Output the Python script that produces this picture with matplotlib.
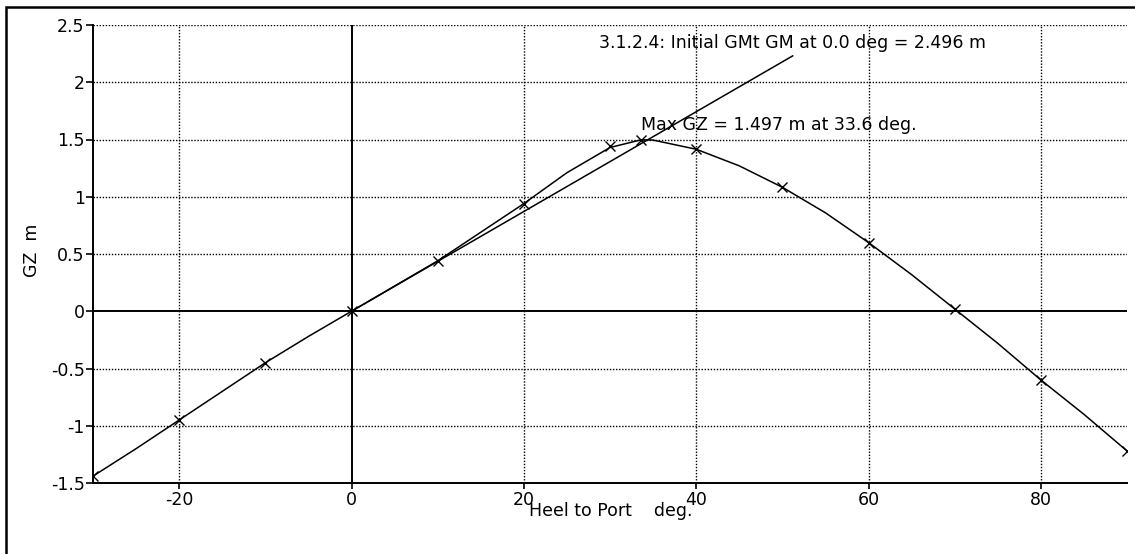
import matplotlib
matplotlib.use("Agg")
import matplotlib.pyplot as plt
from matplotlib.patches import Rectangle

# ---- data ----
heel_deg = [-30, -25, -20, -15, -10, -5, 0, 5, 10, 15, 20, 25, 30, 33.6,
            35, 40, 45, 50, 55, 60, 65, 70, 75, 80, 85, 90]
gz_m = [-1.44, -1.20, -0.95, -0.70, -0.45, -0.22, 0.0, 0.22, 0.44, 0.69,
        0.94, 1.21, 1.43, 1.497, 1.495, 1.415, 1.27, 1.083, 0.86, 0.60,
        0.32, 0.02, -0.28, -0.60, -0.90, -1.22]
marker_deg = [-30, -20, -10, 0, 10, 20, 30, 33.6, 40, 50, 60, 70, 80, 90]
marker_gz = [-1.44, -0.95, -0.45, 0.0, 0.44, 0.94, 1.44, 1.497, 1.415,
             1.083, 0.60, 0.02, -0.60, -1.22]
gm_value = 2.496
gm_line_deg = [0.0, 51.2]
gm_line_gz = [gm_value * d / 57.3 for d in gm_line_deg]
max_gz_deg = 33.6
max_gz_val = 1.497
xticks = [-20, 0, 20, 40, 60, 80]
yticks = [-1.5, -1, -0.5, 0, 0.5, 1, 1.5, 2, 2.5]
ytick_labels = ["-1.5", "-1", "-0.5", "0", "0.5", "1", "1.5", "2", "2.5"]
gm_label = "3.1.2.4: Initial GMt GM at 0.0 deg = 2.496 m"
max_label = "Max GZ = 1.497 m at 33.6 deg."
xlabel = "Heel to Port    deg."
ylabel = "GZ  m"

W, H = 1135, 554
plt.rcParams['font.family'] = ['DejaVu Sans']
FS = 12.5

fig = plt.figure(figsize=(W / 100, H / 100), dpi=100)
fig.patch.set_facecolor("white")

def fx(px):
    return px / W

def fy(py):
    return 1 - py / H

# outer border
fig.patches.append(Rectangle((fx(6), -0.02), 1.05, fy(7) + 0.02,
                             transform=fig.transFigure, fill=False,
                             edgecolor="black", linewidth=1.8))

ax = fig.add_axes([fx(93), fy(483), fx(1127) - fx(93), fy(25) - fy(483)])
ax.set_xlim(-30, 90)
ax.set_ylim(-1.5, 2.5)

dotted = (0, (1, 1.2))
for x in xticks:
    if x != 0:
        ax.axvline(x, color="black", lw=1.0, linestyle=dotted, zorder=1)
for y in yticks:
    if y != 0:
        ax.axhline(y, color="black", lw=1.0, linestyle=dotted, zorder=1)
ax.axvline(0, color="black", lw=1.4, zorder=2)
ax.axhline(0, color="black", lw=1.4, zorder=2)

ax.plot(heel_deg, gz_m, color="black", lw=1.1, zorder=3)
ax.plot(marker_deg, marker_gz, linestyle="none", marker="x", color="black",
        markersize=7, markeredgewidth=1.0, zorder=4, clip_on=True)
ax.plot(gm_line_deg, gm_line_gz, color="black", lw=1.1, zorder=3)

ax.text(28.7, 2.34, gm_label, fontsize=FS, ha="left", va="center")
ax.text(max_gz_deg, 1.545, max_label, fontsize=FS, ha="left", va="bottom")

for s in ["top", "right"]:
    ax.spines[s].set_visible(False)
for s in ["left", "bottom"]:
    ax.spines[s].set_linewidth(1.4)
    ax.spines[s].set_color("black")

ax.set_xticks(xticks)
ax.set_xticklabels([str(t) for t in xticks], fontsize=FS)
ax.set_yticks(yticks)
ax.set_yticklabels(ytick_labels, fontsize=FS)
ax.tick_params(axis="y", direction="out", length=5, width=1.2, pad=1)
ax.tick_params(axis="x", direction="out", length=4, width=1.2, pad=2)

fig.text(fx(529), fy(511), xlabel, fontsize=FS, ha="left", va="center")
fig.text(fx(32), fy(250), ylabel, fontsize=FS, ha="center", va="center",
         rotation=90)

fig.savefig("out.png", dpi=100)
